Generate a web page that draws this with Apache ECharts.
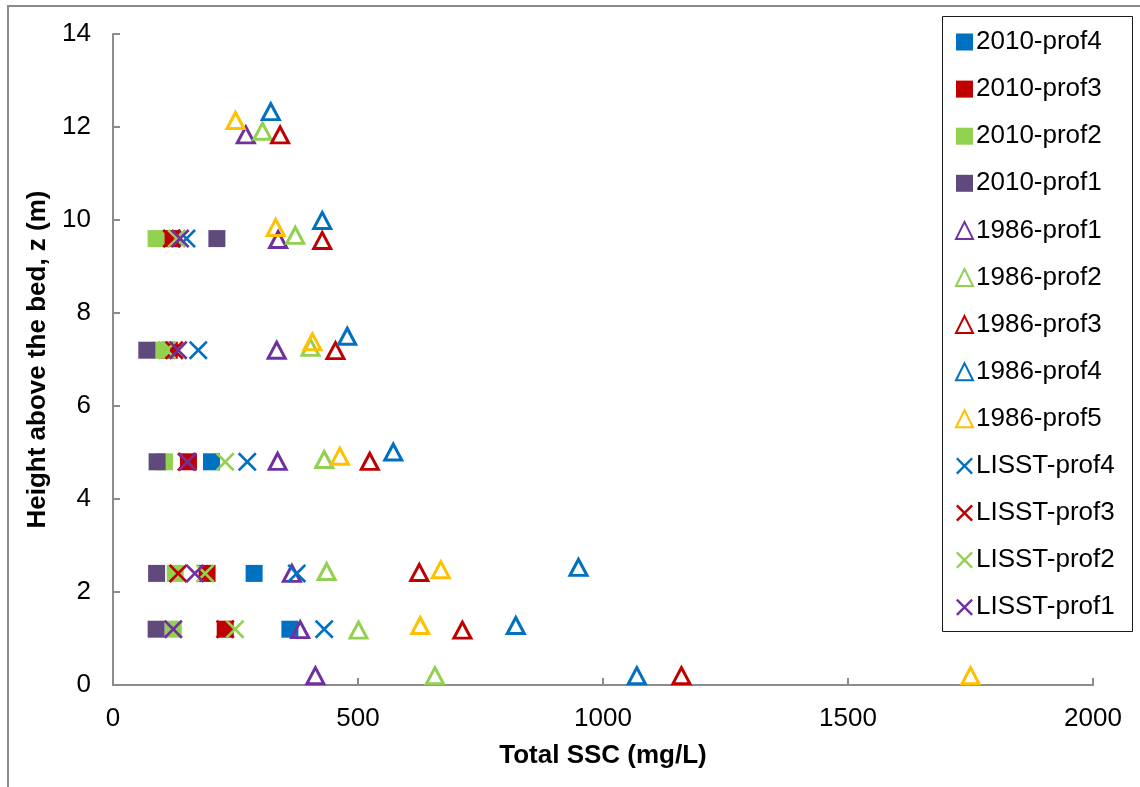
<!DOCTYPE html>
<html>
<head>
<meta charset="utf-8">
<script src="https://cdn.jsdelivr.net/npm/echarts@6/dist/echarts.min.js"></script>
<style>
  html, body { margin: 0; padding: 0; background: #fff; }
  #chart { width: 1140px; height: 787px; }
</style>
</head>
<body>
<div id="chart"></div>
<script>
// Total suspended sediment concentration profiles: SSC (mg/L) vs height above the bed (m)

const xTicks = [0, 500, 1000, 1500, 2000];
const yTicks = [0, 2, 4, 6, 8, 10, 12, 14];

// 2010 profiles (filled squares)
const p2010prof4 = [[201, 4.8], [288, 2.4], [361, 1.2]];
const p2010prof3 = [[118, 9.6], [115, 7.2], [154, 4.8], [192, 2.4], [229, 1.2]];
const p2010prof2 = [[88, 9.6], [99, 7.2], [105, 4.8], [127, 2.4], [123, 1.2]];
const p2010prof1 = [[212, 9.6], [69, 7.2], [90, 4.8], [89, 2.4], [88, 1.2]];

// 1986 profiles (open triangles)
const p1986prof1 = [[271, 11.83], [337, 9.58], [334, 7.2], [336, 4.81], [365, 2.4], [382, 1.19], [413, 0.2]];
const p1986prof2 = [[305, 11.91], [372, 9.67], [403, 7.26], [431, 4.85], [436, 2.44], [501, 1.18], [657, 0.2]];
const p1986prof3 = [[341, 11.83], [427, 9.56], [454, 7.19], [524, 4.81], [625, 2.42], [713, 1.18], [1160, 0.2]];
const p1986prof4 = [[322, 12.33], [427, 9.99], [478, 7.5], [572, 5.01], [950, 2.53], [822, 1.28], [1069, 0.2]];
const p1986prof5 = [[250, 12.14], [332, 9.84], [407, 7.38], [463, 4.92], [669, 2.48], [627, 1.28], [1750, 0.2]];

// LISST profiles (crosses)
const lisstProf4 = [[150, 9.6], [174, 7.2], [274, 4.8], [375, 2.4], [431, 1.2]];
const lisstProf3 = [[120, 9.6], [125, 7.2], [150, 4.8], [133, 2.4], [229, 1.2]];
const lisstProf2 = [[130, 9.6], [110, 7.2], [229, 4.8], [188, 2.4], [249, 1.2]];
const lisstProf1 = [[137, 9.6], [133, 7.2], [152, 4.8], [167, 2.4], [123, 1.2]];

const BLUE = '#0070C0', RED = '#C00000', GREEN = '#92D050', PURPLE = '#7030A0', DPURPLE = '#604A7B', YELLOW = '#FFC000';
const FONT = '"Liberation Sans", Arial, sans-serif';
const CROSS = 'path://M0,2L2,0L10,8L18,0L20,2L12,10L20,18L18,20L10,12L2,20L0,18L8,10Z';

function squares(name, data, color) {
  return { name, type: 'scatter', data, symbol: 'rect', symbolSize: 17,
    itemStyle: { color, opacity: 1 } };
}
function triangles(name, data, color) {
  return { name, type: 'scatter', data, symbol: 'triangle', symbolSize: [17, 16],
    itemStyle: { color: 'rgba(255,255,255,0)', borderColor: color, borderWidth: 3, opacity: 1 } };
}
function crosses(name, data, color) {
  return { name, type: 'scatter', data, symbol: CROSS, symbolSize: 19,
    itemStyle: { color, opacity: 1 } };
}

const series = [
  squares('2010-prof4', p2010prof4, BLUE),
  squares('2010-prof3', p2010prof3, RED),
  squares('2010-prof2', p2010prof2, GREEN),
  squares('2010-prof1', p2010prof1, DPURPLE),
  triangles('1986-prof1', p1986prof1, PURPLE),
  triangles('1986-prof2', p1986prof2, GREEN),
  triangles('1986-prof3', p1986prof3, RED),
  triangles('1986-prof4', p1986prof4, BLUE),
  triangles('1986-prof5', p1986prof5, YELLOW),
  crosses('LISST-prof4', lisstProf4, BLUE),
  crosses('LISST-prof3', lisstProf3, RED),
  crosses('LISST-prof2', lisstProf2, GREEN),
  crosses('LISST-prof1', lisstProf1, PURPLE)
];

const axisGray = '#8C8C8C';
const chart = echarts.init(document.getElementById('chart'), null, { renderer: 'canvas' });
chart.setOption({
  animation: false,
  backgroundColor: '#fff',
  textStyle: { fontFamily: FONT },
  grid: { left: 113, top: 34, right: 47, bottom: 102, containLabel: false },
  graphic: [
    { type: 'rect', shape: { x: 8, y: 6, width: 1200, height: 900 }, z: -10,
      style: { fill: '#fff', stroke: '#8A8A8A', lineWidth: 2 } },
    { type: 'rect', shape: { x: 942.5, y: 16.5, width: 190, height: 615 }, z: 5,
      style: { fill: '#fff', stroke: '#1a1a1a', lineWidth: 1 } }
  ],
  legend: {
    orient: 'vertical', left: 942, top: 16, z: 10,
    padding: [11, 10, 10, 13],
    itemWidth: 17, itemHeight: 17, itemGap: 17.1,
    textStyle: { fontFamily: FONT, fontSize: 26, color: '#000', lineHeight: 30, padding: [0, 0, 0, -2] },
    data: series.map(s => s.name)
  },
  xAxis: {
    type: 'value', min: xTicks[0], max: xTicks[xTicks.length - 1], interval: 500,
    name: 'Total SSC (mg/L)', nameLocation: 'middle', nameGap: 58,
    nameTextStyle: { fontFamily: FONT, fontSize: 26, fontWeight: 'bold', color: '#000' },
    axisLine: { show: true, lineStyle: { color: axisGray, width: 2 } },
    axisTick: { show: true, inside: true, length: 7, lineStyle: { color: axisGray, width: 2 } },
    axisLabel: { fontFamily: FONT, fontSize: 26, color: '#000', margin: 21, formatter: v => String(v) },
    splitLine: { show: false }
  },
  yAxis: {
    type: 'value', min: yTicks[0], max: yTicks[yTicks.length - 1], interval: 2,
    name: 'Height above the bed, z (m)', nameLocation: 'middle', nameGap: 62, nameRotate: 90,
    nameTextStyle: { fontFamily: FONT, fontSize: 26, fontWeight: 'bold', color: '#000' },
    axisLine: { show: true, lineStyle: { color: axisGray, width: 2 } },
    axisTick: { show: true, inside: true, length: 7, lineStyle: { color: axisGray, width: 2 } },
    axisLabel: { fontFamily: FONT, fontSize: 26, color: '#000', margin: 22, formatter: v => String(v) },
    splitLine: { show: false }
  },
  series
});
</script>
</body>
</html>
